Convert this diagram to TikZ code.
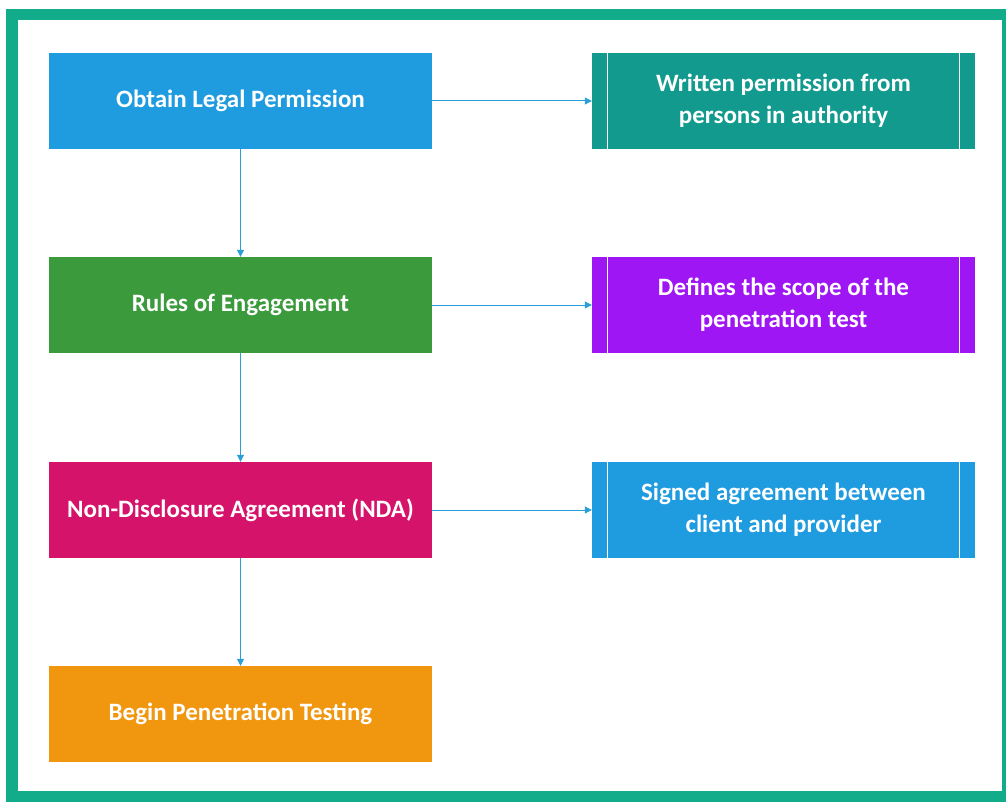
\documentclass[tikz,border=0pt]{standalone}
\usepackage{fontspec}
\setmainfont{Carlito}
\usetikzlibrary{arrows.meta,calc}
\definecolor{frame}{HTML}{12AC8A}
\definecolor{cblue}{HTML}{1F9BE0}
\definecolor{cteal}{HTML}{139A8E}
\definecolor{cgreen}{HTML}{3A9A3C}
\definecolor{cpurple}{HTML}{9E16F4}
\definecolor{cmag}{HTML}{D5136A}
\definecolor{corange}{HTML}{F0960F}
\definecolor{carrow}{HTML}{2A9FD8}
\tikzset{
  stepbox/.style={draw=none, minimum width=383pt, minimum height=96pt, inner sep=0pt,
    text=white, font=\fontsize{25}{32}\selectfont\bfseries, align=center},
  procline/.style={draw=white, line width=1pt},
  conn/.style={draw=carrow, line width=1pt, -{Triangle[length=7pt,width=7pt]}}
}
\begin{document}
\begin{tikzpicture}[x=1pt,y=-1pt]
\useasboundingbox (0,0) rectangle (1006,802);
\fill[white] (0,0) rectangle (1006,802);
\draw[frame, line width=11.5pt] (12,14.5) rectangle (1008,797);
\node[stepbox, fill=cblue] (a) at (240.5,101) {Obtain Legal Permission};
\node[stepbox, fill=cgreen] (b) at (240.5,305) {Rules of Engagement};
\node[stepbox, fill=cmag] (c) at (240.5,510) {Non-Disclosure Agreement (NDA)};
\node[stepbox, fill=corange] (d) at (240.5,714) {Begin Penetration Testing};
\node[stepbox, fill=cteal] (e) at (783.5,101) {Written permission from\\persons in authority};
\node[stepbox, fill=cpurple] (f) at (783.5,305) {Defines the scope of the\\penetration test};
\node[stepbox, fill=cblue] (g) at (783.5,510) {Signed agreement between\\client and provider};
\foreach \n in {e,f,g}{
  \draw[procline] ($(\n.north west)+(16,0)$) -- ($(\n.south west)+(16,0)$);
  \draw[procline] ($(\n.north east)+(-16,0)$) -- ($(\n.south east)+(-16,0)$);
}
\draw[conn] (a) -- (b);
\draw[conn] (b) -- (c);
\draw[conn] (c) -- (d);
\draw[conn] (a) -- (e);
\draw[conn] (b) -- (f);
\draw[conn] (c) -- (g);
\end{tikzpicture}
\end{document}
